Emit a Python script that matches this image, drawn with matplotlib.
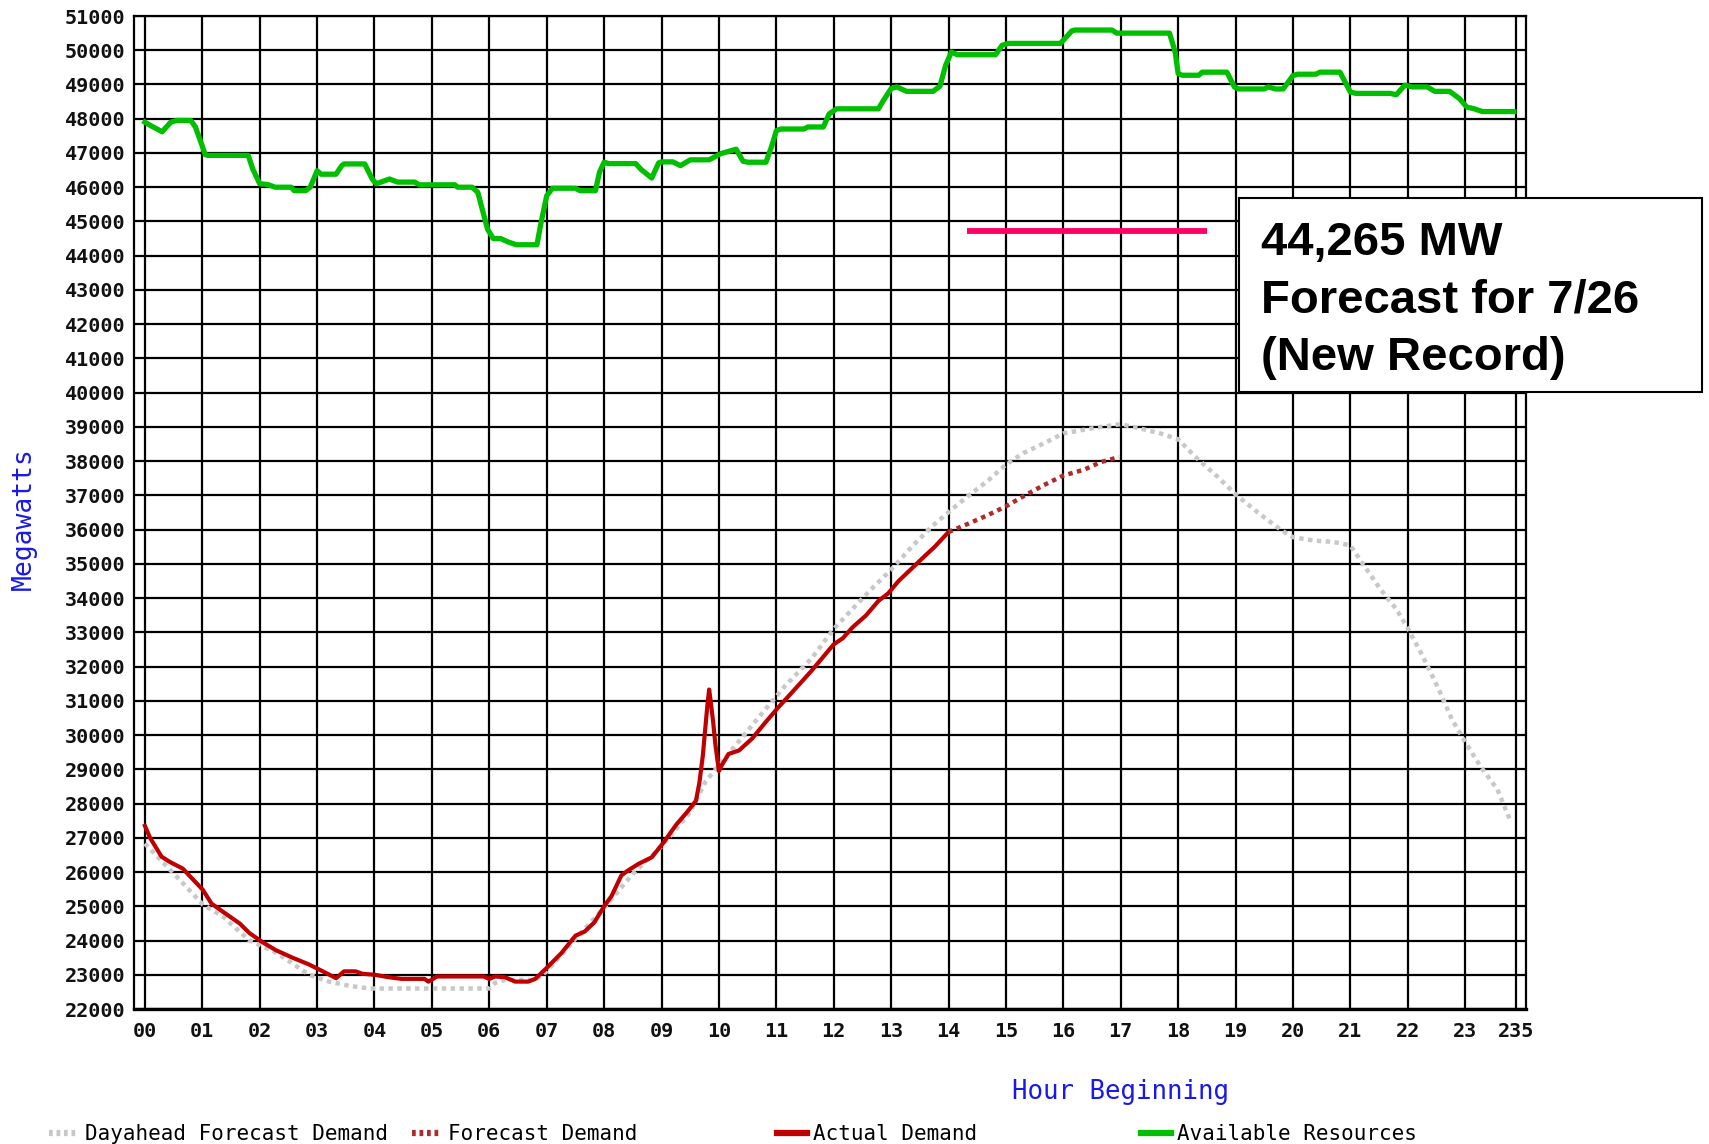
import matplotlib
matplotlib.use("Agg")
import matplotlib.pyplot as plt
from matplotlib.lines import Line2D
from matplotlib.patches import Rectangle

# ---------------- data ----------------
hour_ticks = list(range(24)) + [23.88]
hour_labels = ["%02d" % h for h in range(24)] + ["235"]
mw_ticks = list(range(22000, 51001, 1000))

avail_x = [0.0, 0.1, 0.3, 0.45, 0.55, 0.8, 0.88, 1.0, 1.05, 1.1, 1.8, 1.88, 2.0, 2.14, 2.27, 2.55,
           2.6, 2.8, 2.88, 3.0, 3.07, 3.33, 3.43, 3.47, 3.83, 3.96, 4.03, 4.26, 4.4, 4.7, 4.78, 5.4,
           5.45, 5.7, 5.8, 5.97, 6.07, 6.2, 6.33, 6.47, 6.83, 6.9, 7.0, 7.1, 7.5, 7.58, 7.85, 7.92,
           8.0, 8.08, 8.55, 8.65, 8.83, 8.95, 9.0, 9.2, 9.33, 9.5, 9.83, 10.03, 10.3, 10.42, 10.5,
           10.82, 10.92, 11.0, 11.08, 11.48, 11.55, 11.82, 11.92, 12.05, 12.78, 12.85, 13.0, 13.1,
           13.27, 13.73, 13.85, 13.95, 14.05, 14.15, 14.82, 14.93, 15.03, 15.95, 16.15, 16.2, 16.85,
           16.93, 17.85, 17.95, 18.0, 18.07, 18.36, 18.42, 18.85, 18.98, 19.05, 19.5, 19.57, 19.7,
           19.83, 20.0, 20.08, 20.4, 20.47, 20.82, 21.0, 21.1, 21.7, 21.8, 21.95, 22.08, 22.34,
           22.47, 22.73, 22.9, 23.03, 23.16, 23.3, 23.85]
avail_mw = [47900, 47800, 47620, 47900, 47950, 47950, 47760, 47200, 46950, 46930, 46930, 46530,
            46100, 46080, 46000, 46000, 45900, 45900, 46000, 46480, 46380, 46380, 46630, 46680,
            46680, 46240, 46100, 46240, 46150, 46150, 46070, 46070, 46000, 46000, 45850, 44770,
            44500, 44500, 44400, 44320, 44320, 44950, 45750, 45970, 45970, 45900, 45900, 46440,
            46730, 46690, 46690, 46510, 46270, 46710, 46740, 46740, 46630, 46800, 46800, 46980,
            47110, 46760, 46730, 46730, 47200, 47650, 47700, 47700, 47760, 47760, 48140, 48290,
            48290, 48490, 48880, 48930, 48800, 48800, 48950, 49560, 49950, 49870, 49870, 50140,
            50200, 50200, 50570, 50590, 50590, 50500, 50500, 49940, 49320, 49270, 49270, 49360,
            49360, 48930, 48870, 48870, 48930, 48870, 48870, 49260, 49300, 49300, 49360, 49360,
            48780, 48740, 48740, 48700, 48980, 48930, 48930, 48800, 48800, 48590, 48340, 48290,
            48210, 48210]

actual_x = [0.0, 0.09, 0.29, 0.43, 0.66, 0.84, 1.01, 1.16, 1.36, 1.65, 1.82, 2.05, 2.28, 2.57,
            2.86, 3.1, 3.33, 3.47, 3.67, 3.79, 4.0, 4.24, 4.47, 4.87, 4.94, 5.09, 5.9, 6.0, 6.1,
            6.27, 6.45, 6.68, 6.8, 7.0, 7.26, 7.5, 7.66, 7.83, 8.0, 8.13, 8.3, 8.42, 8.6, 8.83,
            9.03, 9.26, 9.44, 9.6, 9.66, 9.72, 9.76, 9.8, 9.83, 9.86, 9.9, 9.94, 10.0, 10.06,
            10.17, 10.35, 10.58, 10.8, 11.03, 11.27, 11.62, 12.0, 12.16, 12.33, 12.56, 12.78,
            12.95, 13.13, 13.3, 13.53, 13.76, 14.0]
actual_mw = [27350, 27000, 26450, 26300, 26100, 25780, 25480, 25080, 24840, 24500, 24220, 23950,
             23720, 23500, 23300, 23100, 22900, 23100, 23100, 23030, 23000, 22930, 22880, 22880,
             22800, 22950, 22950, 22880, 22950, 22930, 22800, 22800, 22880, 23200, 23640, 24140,
             24260, 24530, 25000, 25300, 25900, 26050, 26240, 26430, 26850, 27390, 27740, 28080,
             28610, 29400, 30150, 30880, 31330, 30940, 30380, 29700, 28950, 29150, 29450, 29550,
             29900, 30350, 30800, 31240, 31890, 32650, 32830, 33150, 33490, 33920, 34140, 34500,
             34770, 35140, 35500, 35930]

forecast_x = [14.0, 14.34, 14.68, 15.0, 15.31, 15.66, 16.0, 16.36, 16.65, 16.97]
forecast_mw = [35930, 36170, 36420, 36680, 36980, 37300, 37580, 37750, 37970, 38120]

dayahead_x = [0.0, 0.32, 0.66, 1.01, 1.36, 1.82, 2.23, 2.51, 2.86, 3.21, 3.55, 3.9, 6.0, 6.1,
              6.27, 6.8, 7.0, 7.5, 8.0, 8.5, 9.0, 9.5, 9.77, 10.23, 10.7, 11.15, 11.62, 12.0,
              12.33, 12.66, 13.0, 13.36, 13.7, 14.0, 14.34, 14.68, 15.0, 15.31, 15.66, 16.0,
              16.3, 16.65, 17.0, 17.35, 17.69, 18.0, 18.33, 18.69, 19.0, 19.39, 19.8, 20.0,
              20.37, 20.71, 21.0, 21.23, 21.52, 21.8, 22.0, 22.26, 22.54, 22.77, 23.0, 23.27,
              23.56, 23.8]
dayahead_mw = [26830, 26270, 25680, 25050, 24700, 24000, 23700, 23400, 23000, 22800, 22680,
               22600, 22600, 22760, 22850, 22850, 23100, 24050, 24950, 25950, 26750, 27750,
               28650, 29580, 30530, 31430, 32250, 33100, 33690, 34270, 34830, 35500, 36080,
               36510, 36980, 37420, 37900, 38240, 38520, 38810, 38900, 39000, 39080, 38950,
               38810, 38640, 38080, 37540, 37030, 36500, 35980, 35780, 35680, 35640, 35540,
               34970, 34270, 33680, 33120, 32310, 31340, 30460, 29800, 29080, 28420, 27450]

record_x = [14.32, 18.5]
record_mw = [44720, 44720]

legend_labels = ["Dayahead Forecast Demand", "Forecast Demand", "Actual Demand", "Available Resources"]
note_lines = ["44,265 MW", "Forecast for 7/26", "(New Record)"]

# ---------------- styles ----------------
C_GREEN = "#00BE00"
C_RED = "#C00000"
C_FC = "#B02A2A"
C_GRAY = "#C8C8C8"
C_PINK = "#FF0066"
C_BLUE = "#1A1AE6"
MONO = "DejaVu Sans Mono"

fig = plt.figure(figsize=(17.09, 11.44), dpi=100)
ax = fig.add_axes([0.0784, 0.118, 0.8145, 0.868])

ax.plot(dayahead_x, dayahead_mw, color=C_GRAY, lw=3.2, ls=(0, (1, 1)),
        dash_capstyle="butt", zorder=3)
ax.plot(actual_x, actual_mw, color=C_RED, lw=3.0, zorder=4, solid_joinstyle="round")
ax.plot(forecast_x, forecast_mw, color=C_FC, lw=3.2, ls=(0, (1, 1)),
        dash_capstyle="butt", zorder=4)
ax.plot(avail_x, avail_mw, color=C_GREEN, lw=3.8, zorder=5, solid_joinstyle="round")
ax.plot(record_x, record_mw, color=C_PINK, lw=4.2, solid_capstyle="butt", zorder=6)

ax.set_xlim(-0.19, 24.06)
ax.set_ylim(22000, 51000)
ax.set_xticks(hour_ticks)
ax.set_xticklabels(hour_labels)
ax.set_yticks(mw_ticks)
ax.set_yticklabels([str(v) for v in mw_ticks])
ax.tick_params(length=0, pad=6)
for lab in ax.get_xticklabels() + ax.get_yticklabels():
    lab.set_fontfamily(MONO)
    lab.set_fontweight("bold")
    lab.set_fontsize(14.5)
    lab.set_color("#111111")
ax.tick_params(axis="x", pad=9)

ax.grid(True, color="black", lw=1.6, zorder=1)
ax.set_axisbelow(True)
for s in ax.spines.values():
    s.set_color("black")
    s.set_linewidth(1.6)
ax.spines["bottom"].set_linewidth(2.4)

ax.set_xlabel("Hour Beginning", fontfamily=MONO, fontsize=18.5, color=C_BLUE)
ax.xaxis.set_label_coords(0.709, -0.070)
ax.set_ylabel("Megawatts", fontfamily=MONO, fontsize=19, color=C_BLUE, va="center")
ax.yaxis.set_label_coords(-0.079, 0.494)

# legend: four independent entries at fixed column positions
handles = [
    Line2D([], [], color=C_GRAY, lw=4.5, ls=(0, (0.6, 0.6)), dash_capstyle="butt"),
    Line2D([], [], color=C_FC, lw=4.5, ls=(0, (0.6, 0.6)), dash_capstyle="butt"),
    Line2D([], [], color=C_RED, lw=4.5),
    Line2D([], [], color=C_GREEN, lw=4.5),
]
leg_x = [49, 412, 777, 1141]
for h, lab, px in zip(handles, legend_labels, leg_x):
    fig.legend(handles=[h], labels=[lab], loc="center left",
               bbox_to_anchor=(px / 1709, 1 - 1134 / 1144), frameon=False,
               borderpad=0, borderaxespad=0, handlelength=1.45, handletextpad=0.3,
               prop={"family": MONO, "size": 15})

# annotation box
fig.patches.append(Rectangle((1239 / 1709, 1 - 392 / 1144), (1702 - 1239) / 1709,
                             (392 - 198) / 1144, transform=fig.transFigure,
                             facecolor="white", edgecolor="black", lw=1.5, zorder=10))
for line, base in zip(note_lines, [255, 313, 370]):
    fig.text(1261 / 1709, 1 - base / 1144, line, fontfamily="Liberation Sans",
             fontweight="bold", fontsize=34, va="baseline", ha="left", zorder=11)

fig.savefig("out.png", dpi=100, facecolor="white")
